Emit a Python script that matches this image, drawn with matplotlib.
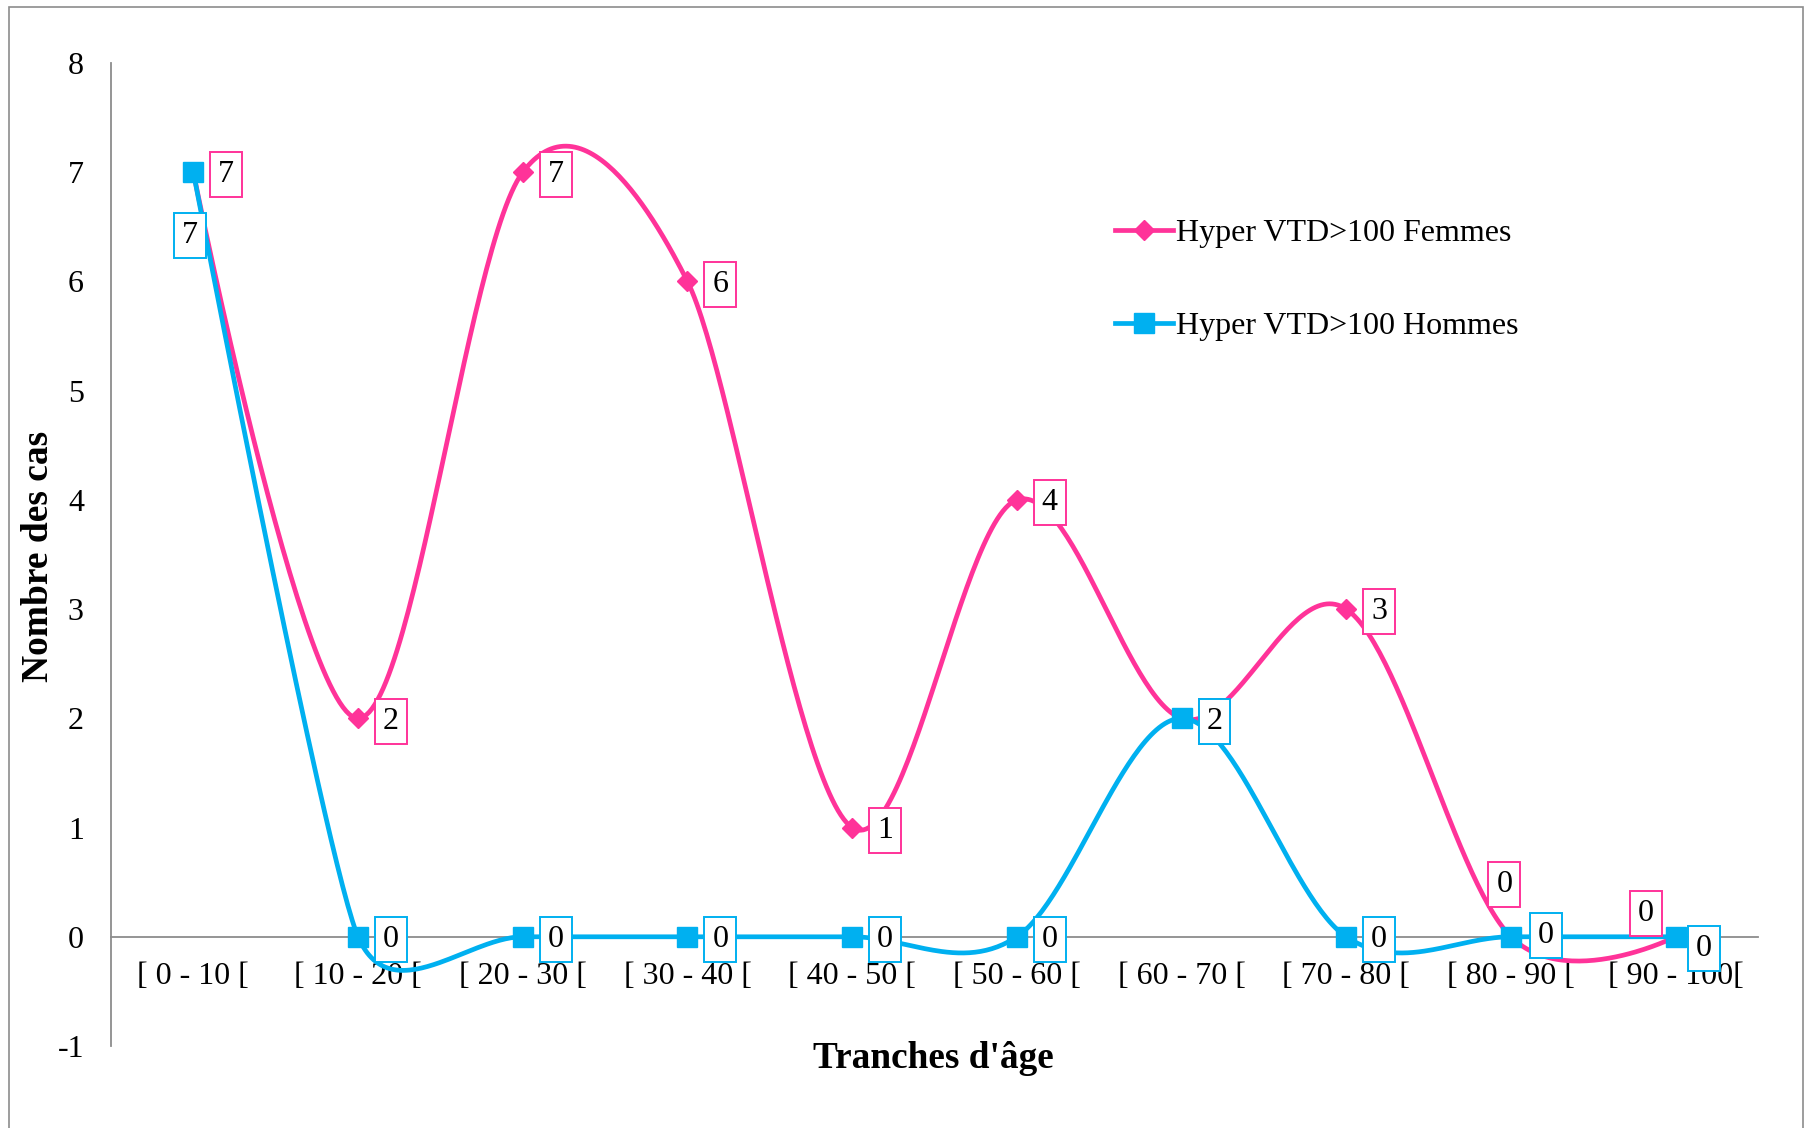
import numpy as np
import matplotlib
matplotlib.use("Agg")
import matplotlib.pyplot as plt
from matplotlib.patches import Rectangle

# données
categories = ["[ 0 - 10 [", "[ 10 - 20 [", "[ 20 - 30 [", "[ 30 - 40 [", "[ 40 - 50 [",
              "[ 50 - 60 [", "[ 60 - 70 [", "[ 70 - 80 [", "[ 80 - 90 [", "[ 90 - 100["]
femmes = [7, 2, 7, 6, 1, 4, 2, 3, 0, 0]
hommes = [7, 0, 0, 0, 0, 0, 2, 0, 0, 0]
y_ticks = [-1, 0, 1, 2, 3, 4, 5, 6, 7, 8]

# décalage des étiquettes (en unités de données)
lab_f = [(0.2, 0), (0.2, 0), (0.2, 0), (0.2, 0), (0.2, 0), (0.2, 0), (0.2, 0), (0.2, 0),
         (-0.04, 0.5), (-0.18, 0.24)]
lab_h = [(-0.02, -0.55), (0.2, 0), (0.2, 0), (0.2, 0), (0.2, 0), (0.2, 0), (0.2, 0), (0.2, 0),
         (0.21, 0.04), (0.17, -0.08)]

ROSE = "#FF3399"
BLEU = "#00B0F0"
GRIS = "#8C8C8C"

plt.rcParams["font.family"] = ["Liberation Serif", "DejaVu Serif"]
plt.rcParams["font.size"] = 23
plt.rcParams["axes.unicode_minus"] = False

fig = plt.figure(figsize=(18.12, 11.28), dpi=100)
ax = fig.add_axes([111 / 1812, 1 - 1046 / 1128, 1647 / 1812, (1046 - 63) / 1128])
ax.set_xlim(-0.5, 9.5)
ax.set_ylim(-1, 8)

# cadre extérieur
fig.patches.append(Rectangle((9 / 1812, -0.05), 1794 / 1812, 1.05 - 7 / 1128,
                             transform=fig.transFigure, fill=False,
                             edgecolor=GRIS, linewidth=1.2))


def lissage(xs, ys, n=60):
    # courbe lissée façon Excel (Bézier), calculée en pixels
    pts = ax.transData.transform(np.column_stack([xs, ys]))
    m = len(pts)
    tang = np.zeros((m, 2))
    for i in range(1, m - 1):
        v = pts[i + 1] - pts[i - 1]
        d02 = np.hypot(*v)
        d01 = np.hypot(*(pts[i] - pts[i - 1]))
        d12 = np.hypot(*(pts[i + 1] - pts[i]))
        if d02 > 0:
            s = min(d02 / 6, d01 / 2, d12 / 2)
            tang[i] = v / d02 * s
    t = np.linspace(0, 1, n)[:, None]
    seg = []
    for i in range(m - 1):
        b0, b3 = pts[i], pts[i + 1]
        b1, b2 = b0 + tang[i], b3 - tang[i + 1]
        seg.append((1 - t) ** 3 * b0 + 3 * (1 - t) ** 2 * t * b1
                   + 3 * (1 - t) * t ** 2 * b2 + t ** 3 * b3)
    curve = ax.transData.inverted().transform(np.vstack(seg))
    return curve[:, 0], curve[:, 1]


x = np.arange(len(categories))

cx, cy = lissage(x, femmes)
ax.plot(cx, cy, color=ROSE, lw=3.4, solid_capstyle="round", zorder=3)
ax.plot(x, femmes, ls="none", marker="D", ms=10, color=ROSE, zorder=3)
cx, cy = lissage(x, hommes)
ax.plot(cx, cy, color=BLEU, lw=3.4, solid_capstyle="round", zorder=4)
ax.plot(x, hommes, ls="none", marker="s", ms=14, color=BLEU, zorder=4)

for i, v in enumerate(femmes):
    ax.text(x[i] + lab_f[i][0], v + lab_f[i][1] - 0.025, str(v), ha="center", va="center",
            zorder=5, bbox=dict(boxstyle="square,pad=0.25", fc="white", ec=ROSE, lw=1.4))
for i, v in enumerate(hommes):
    ax.text(x[i] + lab_h[i][0], v + lab_h[i][1] - 0.025, str(v), ha="center", va="center",
            zorder=6, bbox=dict(boxstyle="square,pad=0.25", fc="white", ec=BLEU, lw=1.4))

# légende
ax.plot([], [], color=ROSE, lw=3.4, marker="D", ms=10, label="Hyper VTD>100 Femmes")
ax.plot([], [], color=BLEU, lw=3.4, marker="s", ms=14, label="Hyper VTD>100 Hommes")
ax.legend(loc="center left", bbox_to_anchor=(1115 / 1812, 1 - 280 / 1128),
          bbox_transform=fig.transFigure, frameon=False, borderpad=0, borderaxespad=0,
          handlelength=1.8, handletextpad=0.1, labelspacing=2.0, fontsize=23)

# axes
for s in ["top", "right"]:
    ax.spines[s].set_visible(False)
ax.spines["bottom"].set_position(("data", 0))
ax.spines["bottom"].set_color(GRIS)
ax.spines["left"].set_color(GRIS)
ax.spines["bottom"].set_linewidth(1.3)
ax.spines["left"].set_linewidth(1.3)
ax.spines["bottom"].set_zorder(1)
ax.set_xticks(x)
ax.set_xticklabels(categories)
ax.set_yticks(y_ticks)
ax.tick_params(axis="both", length=0, labelsize=23)
ax.tick_params(axis="y", pad=19.5)
ax.tick_params(axis="x", pad=18.5)

fig.text(933 / 1812, 1 - 1058 / 1128, "Tranches d'âge", ha="center", va="center",
         fontsize=26.8, fontweight="bold")
fig.text(39 / 1812, 1 - 556 / 1128, "Nombre des cas", ha="center", va="center",
         rotation=90, fontsize=27, fontweight="bold")

fig.savefig("out.png", dpi=100)
